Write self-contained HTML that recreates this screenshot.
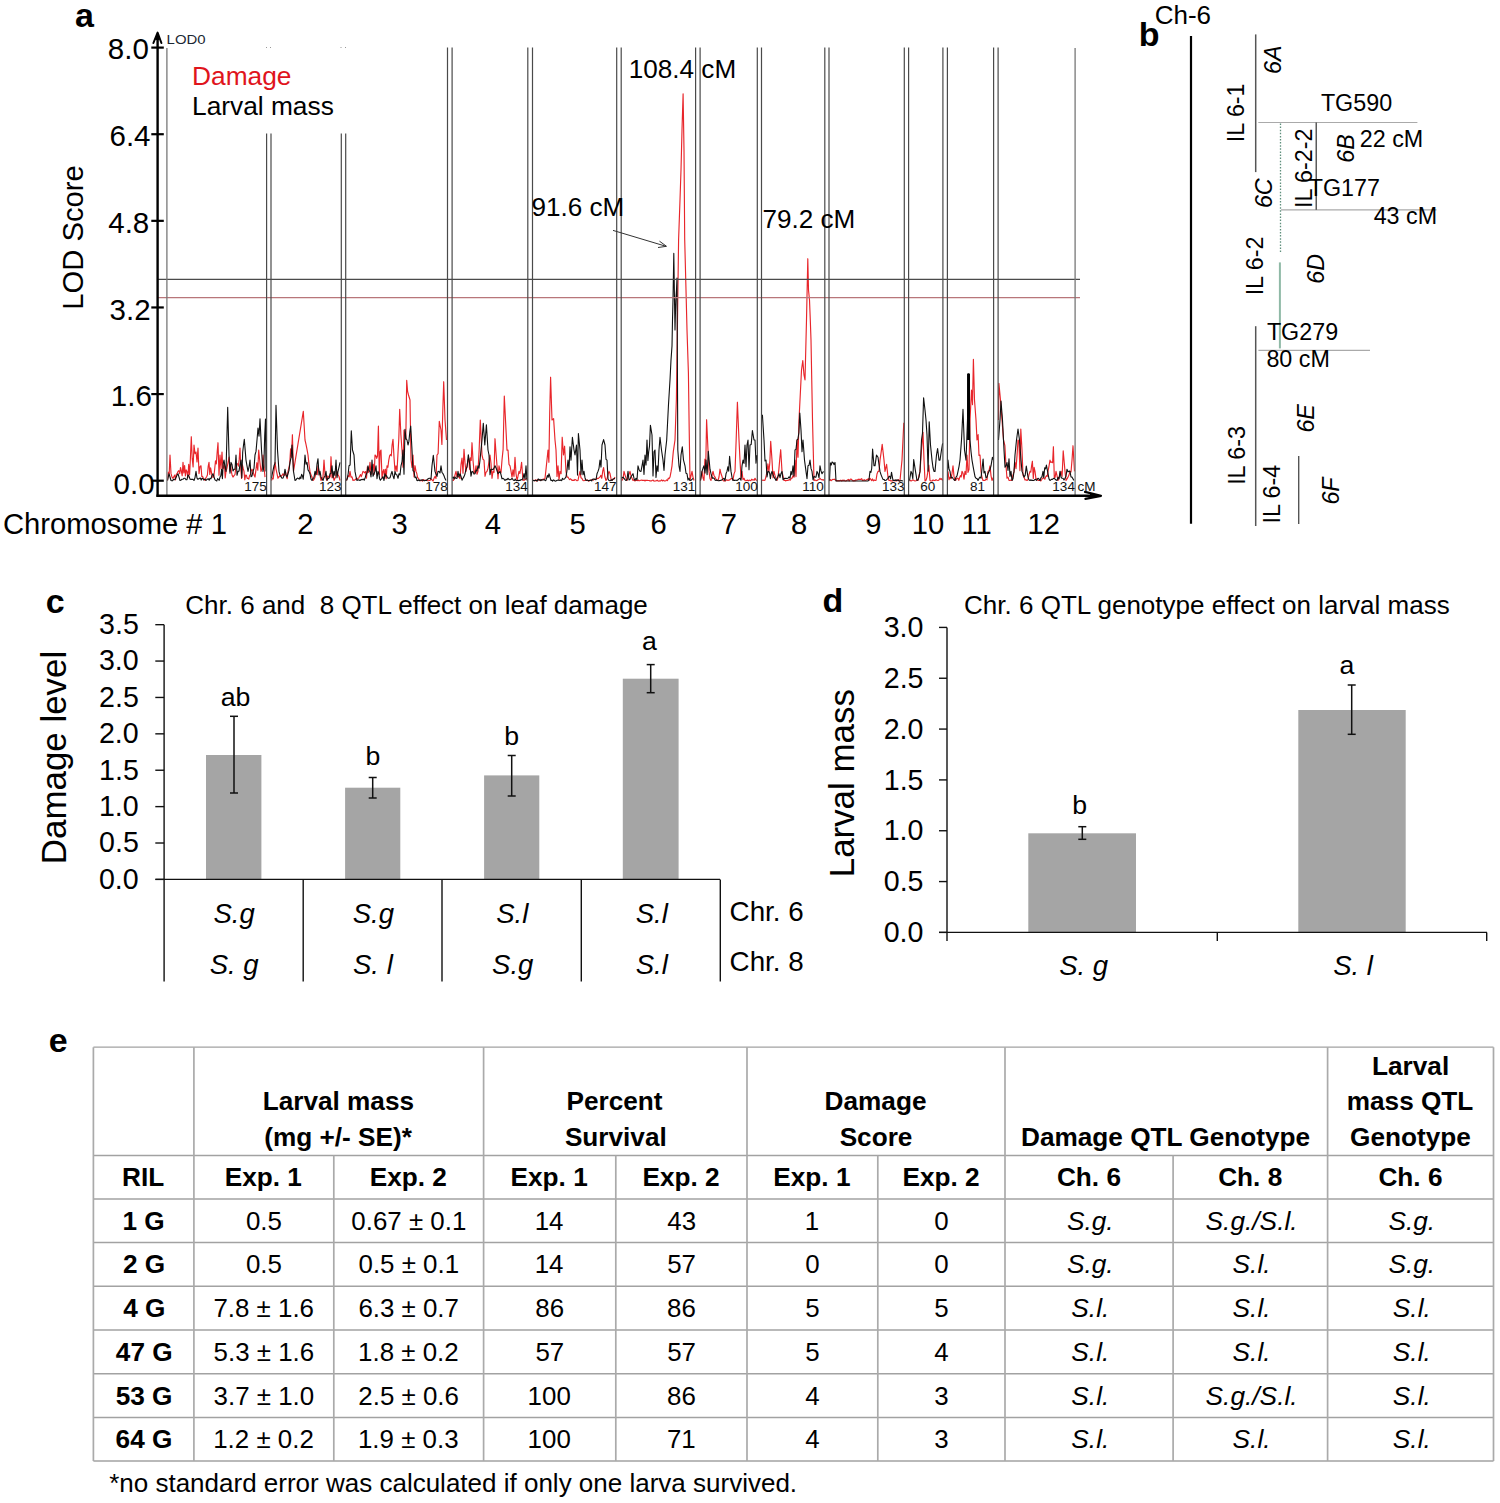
<!DOCTYPE html>
<html><head><meta charset="utf-8"><title>Figure</title>
<style>
html,body{margin:0;padding:0;background:#fff;}
body{width:1500px;height:1503px;overflow:hidden;}
svg{display:block;}
text{font-family:"Liberation Sans", sans-serif;}
</style></head><body>
<svg width="1500" height="1503" viewBox="0 0 1500 1503" font-family="Liberation Sans, sans-serif">
<rect width="1500" height="1503" fill="#fff"/>
<text x="75.00" y="27.30" font-size="34" font-weight="bold" fill="#000" >a</text>
<polyline points="167.5,480.5 168.3,472.2 169.2,474.1 170.0,455.0 171.0,473.4 172.0,477.2 173.0,478.3 173.8,476.7 174.7,475.0 175.5,479.9 176.3,474.3 177.2,473.4 178.0,471.4 178.8,470.7 179.7,473.6 180.5,467.5 181.3,471.0 182.2,475.8 183.0,462.4 183.8,472.9 184.6,465.5 185.4,475.9 186.2,469.9 187.0,471.4 187.9,477.7 188.7,464.3 189.6,474.7 190.4,458.3 191.3,436.7 192.2,458.4 193.1,466.9 194.0,445.0 195.0,453.7 196.0,452.0 197.0,461.9 198.0,448.0 199.0,473.6 200.0,466.5 201.0,465.8 201.8,476.4 202.6,476.4 203.4,478.5 204.2,478.9 205.0,480.5 205.8,478.0 206.6,476.7 207.4,475.0 208.2,466.4 209.0,462.4 209.8,474.4 210.6,467.8 211.4,472.1 212.2,476.9 213.0,477.1 213.8,476.9 214.7,469.0 215.5,460.8 216.3,463.9 217.2,451.9 218.0,442.7 219.0,475.3 220.0,455.0 221.0,468.9 222.0,452.0 222.8,468.7 223.6,467.8 224.4,464.2 225.2,477.9 226.0,471.4 227.0,468.0 228.0,462.5 229.0,457.0 229.8,471.2 230.6,464.4 231.4,471.8 232.2,475.5 233.0,477.1 234.0,475.7 235.0,474.5 236.0,465.8 236.8,463.4 237.6,464.0 238.4,466.1 239.2,459.4 240.0,448.0 240.8,469.0 241.6,478.5 242.4,464.9 243.2,468.4 244.0,471.4 244.8,479.8 245.6,475.1 246.4,475.4 247.2,478.4 248.0,478.3 248.8,479.1 249.6,475.4 250.4,474.6 251.2,470.9 252.0,469.2 253.0,471.1 254.0,475.1 255.0,477.1 255.9,470.1 256.9,462.7 257.8,470.2 258.7,450.0 259.9,462.2 261.0,471.4 262.0,468.7 263.0,455.0 264.0,466.3 265.0,477.1" fill="none" stroke="#e8262b" stroke-width="1.15" stroke-linejoin="round"/>
<polyline points="271.5,480.5 272.4,478.2 273.2,478.9 274.1,471.0 275.0,462.4 276.0,469.1 277.0,473.6 278.0,478.3 278.8,476.8 279.7,476.6 280.5,475.3 281.3,476.2 282.2,475.2 283.0,473.7 283.8,475.3 284.7,475.1 285.5,472.0 286.3,476.4 287.2,478.7 288.0,471.4 288.9,468.0 289.8,462.8 290.6,448.9 291.5,457.3 292.4,434.7 293.5,471.4 303.3,411.3 305.0,440.0 306.0,444.4 307.0,449.4 308.0,455.0 309.0,464.6 310.0,471.4 311.0,475.1 312.0,477.0 313.0,480.5 313.8,479.6 314.7,478.0 315.5,475.1 316.3,471.8 317.2,474.7 318.0,465.8 319.0,470.6 320.0,475.3 321.0,480.5 322.0,479.1 323.0,477.1 324.0,460.1 325.0,474.3 326.0,478.0 327.0,480.5 327.8,475.9 328.6,477.0 329.4,477.5 330.2,476.7 331.0,456.7 332.0,477.8 333.0,474.4 334.0,480.5 335.0,478.3 336.0,476.0 337.0,471.4 338.0,474.7 339.0,476.5 340.0,480.5" fill="none" stroke="#e8262b" stroke-width="1.15" stroke-linejoin="round"/>
<polyline points="346.5,480.5 347.4,477.8 348.2,475.6 349.1,476.9 350.0,471.4 351.0,477.1 352.0,476.9 353.0,480.5 353.8,480.1 354.7,480.1 355.5,479.6 356.3,478.2 357.2,479.4 358.0,478.3 358.8,477.9 359.7,476.0 360.5,474.6 361.3,476.7 362.2,473.8 363.0,471.4 363.9,471.9 364.8,472.9 365.6,471.6 366.5,478.2 367.4,466.9 368.2,472.4 369.1,470.5 370.0,462.4 370.8,470.9 371.7,474.2 372.5,465.2 373.3,464.3 374.2,474.3 375.0,455.0 375.9,455.8 376.7,458.4 377.5,456.0 378.4,426.0 379.3,474.6 380.1,451.6 381.0,450.0 382.0,477.8 383.0,471.4 383.8,469.6 384.6,478.1 385.4,469.2 386.2,478.7 387.0,465.8 387.9,467.3 388.7,460.6 389.6,455.8 390.4,454.6 391.3,455.8 392.1,445.1 393.0,439.3 394.0,457.4 395.0,471.0 396.0,465.8 397.0,471.4 397.9,454.9 398.8,438.7 399.7,409.3 400.9,434.9 402.0,450.0 403.0,467.2 404.0,430.0 404.9,434.9 405.8,439.4 406.7,380.4 407.6,391.3 408.5,395.0 410.0,400.0 411.0,459.7 412.0,467.5 413.0,455.0 414.0,476.8 415.0,465.7 416.0,471.4 416.8,473.5 417.6,477.6 418.4,478.3 419.2,479.5 420.0,480.5 420.8,480.8 421.7,480.2 422.5,481.1 423.3,479.5 424.2,480.1 425.0,480.5 425.8,480.4 426.7,480.0 427.5,480.6 428.3,480.7 429.2,480.5 430.0,480.5 430.8,479.4 431.6,479.3 432.4,480.4 433.2,480.9 434.0,478.3 435.0,476.4 436.0,478.6 437.0,455.0 438.1,453.6 439.3,421.3 441.0,430.0 441.9,444.5 442.8,410.6 443.7,381.7 445.0,420.0 446.5,440.0" fill="none" stroke="#e8262b" stroke-width="1.15" stroke-linejoin="round"/>
<polyline points="452.5,480.5 453.4,480.5 454.2,478.3 455.1,474.6 456.0,471.4 457.0,476.9 458.0,475.8 459.0,477.1 460.0,478.6 461.0,464.7 462.0,458.0 463.0,473.2 464.0,449.3 465.0,463.0 466.0,471.4 467.0,466.1 468.0,460.1 468.8,458.6 469.6,469.3 470.4,457.8 471.2,460.5 472.0,442.7 473.0,460.2 474.0,471.4 475.0,473.1 476.0,465.8 477.0,474.2 478.0,471.4 479.1,450.7 480.3,420.0 482.0,455.0 483.0,459.3 484.0,460.1 485.0,476.3 486.0,472.2 487.0,471.4 488.0,468.2 489.0,461.5 490.0,455.0 491.0,463.5 492.0,478.3 493.0,471.4 494.0,472.3 495.0,438.7 496.0,452.8 497.0,465.8 498.0,478.6 499.0,465.8 500.0,470.4 501.0,472.8 502.0,460.1 503.1,449.4 504.3,396.0 506.0,430.0 507.0,450.1 508.0,450.0 509.0,464.4 510.0,465.8 511.0,471.2 512.0,477.1 513.0,469.9 514.0,476.4 515.0,457.3 516.0,473.5 517.0,480.5 518.0,476.2 519.0,471.4 519.9,473.4 520.7,468.9 521.6,462.4 523.0,480.5 523.8,479.7 524.6,480.2 525.4,479.4 526.2,478.6 527.0,478.3" fill="none" stroke="#e8262b" stroke-width="1.15" stroke-linejoin="round"/>
<polyline points="533.0,480.5 533.9,480.2 534.8,480.8 535.6,479.9 536.5,481.1 537.4,479.5 538.2,479.8 539.1,479.9 540.0,480.5 540.8,480.4 541.7,479.8 542.5,479.6 543.3,479.1 544.2,479.4 545.0,478.3 546.0,469.4 547.0,459.7 548.0,450.0 548.9,462.3 549.7,413.0 550.6,377.2 552.0,420.0 553.6,418.6 555.0,440.0 556.0,450.0 557.0,476.5 558.0,465.8 559.0,479.8 560.0,471.4 561.1,473.7 562.2,437.2 563.5,455.0 564.6,446.2 566.0,471.4 567.0,477.1 568.0,477.1 568.8,478.5 569.6,479.6 570.4,478.8 571.2,479.4 572.0,480.5 573.0,480.1 574.0,480.5 575.0,479.4 576.0,479.9 577.0,480.7 578.0,480.5 579.0,475.4 580.0,471.4 581.0,477.8 582.0,478.5 583.0,480.5 583.9,480.7 584.8,480.3 585.6,480.1 586.5,480.5 587.4,480.0 588.2,480.9 589.1,481.0 590.0,480.5 590.9,480.2 591.7,479.6 592.6,479.7 593.4,480.2 594.3,479.3 595.1,479.5 596.0,479.4 596.8,478.1 597.6,478.6 598.4,478.5 599.2,477.5 600.0,477.1 600.9,475.3 601.8,478.3 602.7,471.2 603.6,467.6 604.8,476.5 606.0,480.5 607.0,478.8 608.0,474.6 609.0,471.4 610.0,473.6 611.0,478.7 612.0,480.5 613.0,479.1 614.0,478.9 615.0,477.1" fill="none" stroke="#e8262b" stroke-width="1.15" stroke-linejoin="round"/>
<polyline points="621.5,480.5 622.3,480.0 623.2,477.9 624.0,471.4 625.0,474.9 626.0,478.2 627.0,480.5 628.0,477.5 629.0,474.2 630.0,471.4 631.0,475.9 632.0,478.2 633.0,480.5 633.9,479.8 634.8,481.0 635.6,480.6 636.5,480.3 637.4,480.6 638.2,480.0 639.1,480.8 640.0,480.5 640.8,480.2 641.7,480.1 642.5,480.4 643.3,480.4 644.2,480.2 645.0,481.0 645.8,480.2 646.7,480.4 647.5,480.4 648.3,480.5 649.2,480.5 650.0,481.0 650.8,480.8 651.6,480.9 652.4,480.2 653.2,480.1 654.0,481.1 654.8,481.0 655.6,480.9 656.4,480.7 657.2,480.2 658.0,481.0 658.9,481.1 659.8,480.8 660.6,481.0 661.5,479.9 662.4,481.0 663.2,480.2 664.1,480.9 665.0,481.0 665.8,480.7 666.7,479.9 667.5,480.6 668.3,478.2 669.2,478.6 670.0,477.1 671.0,471.9 672.0,465.8 673.3,451.6 675.0,440.0 676.4,399.0 677.5,320.0 678.6,239.6 680.0,200.0 681.0,170.0 682.0,130.0 683.1,93.8 684.0,150.0 684.7,239.6 686.0,290.0 687.0,330.0 688.4,372.5 689.2,430.0 690.0,480.5 691.0,475.8 692.0,471.4 693.0,477.1 694.0,480.5" fill="none" stroke="#e8262b" stroke-width="1.15" stroke-linejoin="round"/>
<polyline points="700.5,480.5 702.0,471.4 703.0,478.0 704.0,480.5 704.9,459.2 705.7,468.8 706.6,419.7 708.0,450.0 709.0,471.4 710.0,478.7 711.0,480.5 712.0,475.4 713.0,471.4 714.0,475.5 715.0,477.1 716.0,479.1 717.0,480.3 718.0,480.5 719.0,477.0 720.0,469.2 721.0,473.8 722.0,476.5 723.0,480.5 723.8,480.9 724.7,480.8 725.5,480.9 726.3,479.7 727.2,480.1 728.0,480.5 728.8,480.1 729.6,480.0 730.4,479.1 731.2,478.7 732.0,478.3 733.0,479.9 734.0,473.9 735.0,471.4 736.2,438.7 737.4,402.2 739.0,440.0 740.0,460.1 741.0,478.1 742.0,471.4 743.0,479.7 744.0,478.3 745.0,480.5 745.8,480.7 746.7,480.4 747.5,480.0 748.3,480.8 749.2,480.1 750.0,480.5 750.8,480.6 751.7,479.2 752.5,480.0 753.3,479.8 754.2,480.3 755.0,478.3 756.0,479.9 757.0,480.5" fill="none" stroke="#e8262b" stroke-width="1.15" stroke-linejoin="round"/>
<polyline points="762.0,480.5 763.0,480.0 764.0,480.5 765.0,480.1 766.0,476.5 767.0,471.4 767.9,463.9 768.9,471.7 769.8,462.9 770.7,441.3 772.0,460.1 773.0,477.8 774.0,471.4 775.0,475.6 776.0,478.2 777.0,480.5 777.9,477.8 778.9,469.1 779.8,458.8 780.7,449.7 782.0,471.4 783.0,476.1 784.0,480.5 784.8,480.2 785.6,480.9 786.4,480.5 787.2,480.3 788.0,480.5 788.8,479.9 789.6,479.6 790.4,480.1 791.2,478.4 792.0,478.3 793.0,475.6 794.0,477.3 795.0,460.1 796.0,476.6 797.0,440.0 798.0,457.2 799.0,420.0 800.0,400.0 801.5,370.0 802.8,360.6 804.0,375.0 805.0,380.0 806.5,320.0 807.8,258.7 808.5,290.0 809.5,300.0 810.3,320.0 811.0,340.0 812.5,420.0 814.0,480.5 815.0,479.9 816.0,480.6 817.0,480.5 818.0,479.7 819.0,479.5 820.0,478.3 820.8,479.2 821.6,479.7 822.4,479.9 823.2,479.6 824.0,480.5" fill="none" stroke="#e8262b" stroke-width="1.15" stroke-linejoin="round"/>
<polyline points="829.5,481.0 830.4,479.7 831.2,480.7 832.1,479.8 833.0,479.4 833.8,479.5 834.6,479.2 835.4,480.2 836.2,480.2 837.0,481.0 838.0,480.5 839.0,480.9 840.0,480.5 840.8,480.2 841.7,481.0 842.5,480.2 843.3,480.6 844.2,480.0 845.0,481.0 845.8,481.0 846.7,480.5 847.5,480.1 848.3,479.4 849.2,480.9 850.0,479.4 850.8,479.0 851.7,479.6 852.5,480.4 853.3,480.9 854.2,480.4 855.0,481.0 855.8,479.8 856.7,480.1 857.5,479.7 858.3,479.2 859.2,479.4 860.0,479.4 860.8,479.4 861.7,478.7 862.5,480.5 863.3,480.4 864.2,479.7 865.0,480.5 865.8,480.3 866.7,479.6 867.5,479.7 868.3,478.6 869.2,480.3 870.0,478.3 870.8,479.4 871.7,480.6 872.5,478.9 873.3,480.9 874.2,479.9 875.0,480.5 876.0,480.4 877.0,474.0 878.0,471.4 879.0,471.4 880.0,460.1 881.1,452.6 882.2,444.4 884.0,460.1 885.0,471.4 886.6,464.3 888.0,477.1 889.0,480.5 890.0,480.5 890.8,480.9 891.7,480.7 892.5,480.9 893.3,480.6 894.2,480.2 895.0,481.0 895.8,480.3 896.7,481.0 897.5,480.2 898.3,479.7 899.2,480.8 900.0,480.5 901.0,470.2 902.0,460.1 903.8,422.8" fill="none" stroke="#e8262b" stroke-width="1.15" stroke-linejoin="round"/>
<polyline points="909.5,481.0 910.3,480.4 911.2,480.9 912.0,480.5 913.0,479.8 914.0,480.5 915.0,481.0 916.0,480.7 917.0,479.8 918.0,480.5 919.0,475.4 920.0,471.4 921.5,450.0 923.0,432.2 924.0,460.1 925.0,481.0 926.0,480.2 927.0,477.1 928.8,465.0 930.0,480.5 931.0,480.9 932.0,481.0 933.0,480.0 934.0,480.4 935.0,480.5 936.0,479.7 937.0,480.3 938.0,480.5 939.0,479.9 940.0,478.3 940.8,479.5 941.7,478.6 942.5,480.5" fill="none" stroke="#e8262b" stroke-width="1.15" stroke-linejoin="round"/>
<polyline points="948.0,471.4 949.0,479.7 950.0,477.1 951.0,478.7 952.0,473.4 953.0,465.8 954.0,476.4 955.0,480.5 956.0,479.9 957.0,478.1 958.0,478.3 958.8,480.3 959.6,477.8 960.4,475.6 961.2,477.0 962.0,471.4 963.0,473.2 964.0,479.2 965.0,471.4 966.0,474.5 967.0,455.0 968.0,472.4 969.0,469.5 970.0,420.0 971.5,390.0 972.5,404.6 973.4,359.3 974.5,400.0 976.0,420.0 977.0,440.0 978.1,434.5 979.0,455.5 980.0,455.0 981.0,471.4 982.0,477.5 983.0,480.5 984.0,480.4 985.0,480.5 986.0,479.1 987.0,479.8 988.0,471.4 989.0,470.5 990.0,465.8 991.0,475.6 992.0,480.5 993.5,477.1" fill="none" stroke="#e8262b" stroke-width="1.15" stroke-linejoin="round"/>
<polyline points="998.5,420.0 998.9,383.3 1000.5,400.0 1002.0,420.0 1003.5,440.0 1004.9,445.7 1006.0,465.8 1007.0,478.2 1008.0,477.1 1009.0,480.4 1010.0,480.5 1011.0,480.0 1012.0,480.5 1013.0,474.9 1014.0,471.9 1015.0,462.4 1016.0,468.6 1017.0,455.9 1018.0,440.0 1018.9,441.2 1019.9,470.6 1020.8,429.0 1022.0,450.0 1023.0,475.3 1024.0,477.1 1025.0,480.0 1026.0,479.8 1027.0,480.5 1028.0,479.5 1029.0,474.7 1030.0,471.4 1030.8,472.2 1031.6,465.8 1032.4,461.2 1033.3,478.5 1034.1,467.4 1035.0,471.4 1036.0,479.2 1037.0,478.8 1038.0,480.5 1039.0,480.3 1040.0,480.5 1040.8,480.9 1041.6,479.7 1042.4,478.4 1043.2,477.8 1044.0,478.3 1044.8,479.2 1045.6,477.0 1046.4,475.7 1047.2,476.5 1048.0,471.4 1049.0,466.1 1050.0,460.1 1050.8,462.4 1051.7,461.9 1052.6,462.7 1053.4,446.7 1054.3,477.5 1055.1,477.4 1056.0,471.4 1057.0,475.7 1058.0,480.5 1059.0,478.1 1060.0,474.2 1061.0,471.4 1062.1,476.4 1063.2,450.9 1065.0,471.4 1066.0,480.5 1067.0,478.9 1068.0,477.1 1069.0,475.1 1070.0,471.4 1071.0,472.0 1072.0,460.1 1073.0,445.7 1074.5,471.4" fill="none" stroke="#e8262b" stroke-width="1.15" stroke-linejoin="round"/>
<polyline points="167.5,480.5 169.0,473.7 170.0,477.0 171.0,480.5 171.8,480.8 172.6,480.7 173.4,479.3 174.2,479.8 175.0,479.4 176.0,477.6 177.0,475.2 178.0,473.7 179.0,477.1 180.0,480.5 180.8,480.3 181.7,479.4 182.5,479.3 183.3,479.0 184.2,478.2 185.0,478.3 186.0,479.8 187.0,479.6 188.0,474.9 189.0,476.2 190.0,479.2 191.0,479.4 192.0,479.2 193.0,479.4 194.0,480.5 195.0,477.6 196.0,471.4 197.0,478.2 198.0,479.4 198.8,478.7 199.6,478.3 200.4,478.0 201.2,480.1 202.0,478.3 202.8,478.4 203.6,479.9 204.4,479.4 205.2,479.4 206.0,480.5 206.8,479.5 207.6,479.1 208.4,478.9 209.2,480.2 210.0,478.3 211.0,478.7 212.0,475.5 213.0,473.7 214.0,477.0 215.0,479.9 216.0,480.5 216.8,480.9 217.6,478.6 218.4,479.3 219.2,480.4 220.0,477.1 220.8,475.7 221.6,469.2 222.4,478.6 223.2,463.6 224.0,460.1 225.0,466.8 226.0,471.4 227.7,407.3 229.0,455.0 230.0,473.3 231.0,462.4 232.0,464.5 233.0,471.0 234.0,469.2 235.0,469.3 236.0,455.0 237.0,475.3 238.0,471.4 239.0,471.1 240.0,464.7 241.0,460.1 241.8,477.6 242.7,452.2 243.5,445.2 244.3,439.3 246.0,460.1 247.0,465.8 248.0,471.4 249.0,467.0 250.0,460.1 251.0,476.7 252.0,476.0 253.0,471.4 254.0,468.3 255.0,455.0 256.0,451.4 257.0,440.0 258.0,428.0 259.0,436.2 260.0,418.7 261.5,450.0 263.0,471.4 263.8,467.2 264.7,436.0 265.5,419.0 266.0,471.4" fill="none" stroke="#111" stroke-width="1.1" stroke-linejoin="round"/>
<polyline points="271.5,478.3 272.3,473.9 273.2,469.6 274.0,465.8 275.0,463.2 276.0,405.3 277.5,450.0 279.0,471.4 280.0,475.4 281.0,476.7 282.0,478.3 283.0,478.0 284.0,475.6 285.0,469.2 286.0,474.7 287.0,477.1 288.0,473.7 289.0,470.3 290.0,462.4 291.0,457.9 292.0,445.0 293.5,471.4 295.0,480.5 295.8,480.1 296.7,478.7 297.5,478.1 298.3,478.5 299.2,479.1 300.0,477.1 300.8,478.6 301.6,474.4 302.4,475.7 303.2,479.1 304.0,471.4 305.0,455.0 306.0,464.3 307.0,462.4 308.0,469.9 309.0,471.4 310.0,474.0 311.0,479.2 312.0,480.5 313.0,478.6 314.0,477.2 315.0,471.4 316.0,474.8 317.0,464.2 318.0,458.7 319.0,475.0 320.0,471.4 321.0,476.9 322.0,479.0 323.0,480.5 324.0,477.4 325.0,476.1 326.0,471.4 327.0,480.2 328.0,478.6 329.0,478.3 330.0,473.8 331.0,473.5 332.0,465.8 333.0,477.8 334.0,471.4 335.0,475.6 336.0,460.1 337.0,477.6 338.0,471.4 339.0,467.1 340.0,462.4" fill="none" stroke="#111" stroke-width="1.1" stroke-linejoin="round"/>
<polyline points="346.5,480.5 347.3,478.5 348.2,473.5 349.0,465.8 350.1,465.0 351.3,430.7 352.5,450.0 354.0,455.0 355.0,471.4 356.0,476.6 357.0,480.5 358.0,479.9 359.0,480.0 360.0,480.5 360.8,479.7 361.7,479.4 362.5,479.7 363.3,479.0 364.2,480.2 365.0,478.3 366.0,474.9 367.0,472.8 368.0,465.8 369.0,470.7 370.0,471.4 371.0,477.0 372.0,460.1 373.0,476.2 374.0,473.7 375.0,471.4 376.0,465.8 377.0,478.7 378.0,471.4 378.8,473.1 379.6,478.7 380.4,480.3 381.2,479.0 382.0,478.3 383.0,476.6 384.0,480.5 385.0,473.7 385.8,476.1 386.6,475.7 387.4,477.7 388.2,478.1 389.0,478.3 390.0,477.8 391.0,474.3 392.0,471.4 393.0,475.9 394.0,478.7 395.0,471.4 396.0,474.6 397.0,475.1 398.0,478.3 399.0,473.7 400.0,475.0 401.0,465.8 402.0,461.6 403.0,450.0 404.0,474.2 405.0,429.3 406.0,438.7 407.0,440.0 408.0,445.0 408.9,441.4 409.8,432.1 410.7,426.0 412.0,450.0 413.0,470.8 414.0,471.4 415.0,477.7 416.0,477.0 417.0,480.5 417.8,480.6 418.6,479.8 419.4,480.7 420.2,480.3 421.0,480.1 421.8,480.1 422.6,479.9 423.4,480.5 424.2,480.8 425.0,480.5 425.8,480.3 426.7,480.4 427.5,479.3 428.3,478.7 429.2,478.2 430.0,478.3 431.0,479.0 432.0,465.8 433.3,455.3 435.0,471.4 436.0,474.1 437.0,476.4 438.0,471.4 439.0,471.5 440.0,473.0 441.0,465.8 442.0,472.5 443.0,473.7 444.0,475.8 445.0,478.6 446.0,480.5" fill="none" stroke="#111" stroke-width="1.1" stroke-linejoin="round"/>
<polyline points="452.5,478.3 453.3,477.0 454.2,479.1 455.0,477.1 456.0,478.5 457.0,478.3 458.0,471.4 459.0,476.9 460.0,473.7 461.0,476.5 462.0,480.2 463.0,478.3 464.0,476.6 465.0,474.0 466.0,469.2 467.1,466.7 468.3,454.7 470.0,465.8 471.0,476.2 472.0,471.4 473.0,471.8 474.0,474.1 475.0,473.7 476.0,470.1 477.0,471.0 478.0,465.8 479.0,468.3 480.0,460.1 481.0,450.1 482.0,440.0 483.3,423.3 484.8,445.0 486.4,424.7 488.0,450.0 489.0,455.0 490.0,474.7 491.0,469.2 492.0,469.2 493.0,469.7 494.0,467.9 495.0,465.8 496.0,467.7 497.0,470.5 498.0,473.7 499.0,472.6 500.0,471.4 501.0,474.6 502.0,478.9 503.0,478.3 504.0,479.2 505.0,480.5 506.0,479.4 507.0,479.6 508.0,478.3 508.8,479.3 509.6,479.7 510.4,479.6 511.2,479.3 512.0,478.3 512.8,479.4 513.6,480.3 514.4,480.5 515.2,479.1 516.0,480.5 516.8,480.8 517.6,480.2 518.4,480.6 519.2,480.4 520.0,480.5 521.0,479.6 522.0,479.7 523.0,478.3 524.0,473.5 525.0,479.1 526.0,465.8 527.0,480.5" fill="none" stroke="#111" stroke-width="1.1" stroke-linejoin="round"/>
<polyline points="533.0,480.5 533.9,480.6 534.8,480.6 535.6,480.2 536.5,480.6 537.4,481.1 538.2,478.9 539.1,480.1 540.0,479.4 540.8,480.7 541.7,479.6 542.5,480.0 543.3,479.9 544.2,479.6 545.0,480.5 545.8,480.6 546.6,478.3 547.4,475.4 548.2,477.3 549.0,473.7 550.0,477.2 551.0,480.5 551.8,480.4 552.6,481.1 553.4,479.9 554.2,480.3 555.0,481.0 555.8,481.1 556.7,480.5 557.5,480.2 558.3,479.9 559.2,480.3 560.0,480.5 560.8,479.8 561.7,480.6 562.5,478.3 563.3,479.3 564.2,479.1 565.0,478.3 566.0,476.9 567.0,470.3 568.0,460.1 569.0,469.6 570.0,446.8 571.0,460.1 572.4,437.2 574.0,450.0 575.0,455.0 576.5,445.0 577.5,475.1 578.4,433.6 580.0,450.0 581.0,474.4 582.0,460.1 583.0,474.8 584.0,471.4 585.0,477.7 586.0,480.5 586.8,480.2 587.6,480.2 588.4,480.9 589.2,480.4 590.0,480.5 590.8,480.0 591.7,481.0 592.5,479.3 593.3,479.1 594.2,479.0 595.0,479.4 596.0,479.7 597.0,473.8 598.0,471.4 599.0,468.3 600.0,460.1 601.0,467.1 602.0,445.0 603.6,439.6 605.0,445.0 606.0,459.3 607.0,460.1 608.0,479.0 609.0,480.5 610.0,480.8 611.0,479.8 612.0,480.5 613.0,479.2 614.0,478.7 615.0,478.3" fill="none" stroke="#111" stroke-width="1.1" stroke-linejoin="round"/>
<polyline points="621.5,478.3 623.0,477.1 624.0,478.3 625.0,479.6 626.0,480.5 627.0,479.5 628.0,471.4 629.0,480.0 630.0,479.4 631.0,476.8 632.0,475.2 633.0,473.7 634.0,478.4 635.0,480.3 636.0,478.3 637.0,479.9 638.0,465.8 639.0,469.5 640.0,471.2 641.0,471.4 642.0,465.8 643.0,460.1 644.0,474.5 645.0,455.0 646.0,465.1 647.0,440.0 647.9,460.6 648.7,451.8 649.5,446.1 650.4,425.2 652.0,435.0 653.0,476.0 654.0,451.8 655.0,450.0 656.0,477.4 657.0,465.8 658.0,471.4 659.0,450.0 660.0,437.2 661.5,450.0 663.0,460.1 664.0,470.4 665.0,455.0 666.7,440.0 668.5,404.5 670.0,380.0 671.0,360.0 672.0,346.0 672.5,320.0 673.0,300.0 673.8,253.4 674.5,300.0 675.0,330.0 675.8,300.0 676.5,290.0 677.0,278.0 677.8,450.0 679.0,465.8 680.0,471.4 681.0,455.0 682.3,446.8 683.5,460.1 685.0,465.8 686.0,473.2 687.0,473.7 688.0,480.1 689.0,478.2 690.0,480.5 691.0,480.3 692.0,479.3 693.0,478.3" fill="none" stroke="#111" stroke-width="1.1" stroke-linejoin="round"/>
<polyline points="700.5,480.5 702.0,471.4 703.0,468.3 704.0,465.8 705.0,473.1 706.0,460.1 707.1,474.6 708.3,451.3 710.0,469.2 711.0,473.7 712.0,477.1 712.8,478.4 713.6,477.9 714.4,478.7 715.2,480.3 716.0,480.5 716.8,480.0 717.6,480.5 718.4,480.8 719.2,480.6 720.0,480.5 720.8,480.4 721.6,480.0 722.4,479.4 723.2,478.9 724.0,478.3 725.0,480.7 726.0,473.8 727.0,471.4 727.9,466.7 728.7,471.2 729.6,456.3 731.0,471.4 732.0,477.2 733.0,480.5 733.8,480.0 734.6,480.5 735.4,480.2 736.2,480.2 737.0,480.5 738.0,479.8 739.0,478.8 740.0,478.3 741.0,480.3 742.0,465.8 743.0,460.0 744.0,463.4 745.0,445.0 746.0,466.7 747.0,445.0 748.0,440.0 749.0,469.7 750.0,445.0 751.2,444.4 752.4,430.5 754.0,440.0 755.0,440.0 756.0,463.2 757.0,455.0" fill="none" stroke="#111" stroke-width="1.1" stroke-linejoin="round"/>
<polyline points="762.4,414.7 764.0,440.0 765.0,460.9 766.0,460.1 767.0,477.0 768.0,471.4 768.8,471.5 769.6,472.9 770.4,478.6 771.2,473.7 772.0,471.4 773.0,474.7 774.0,477.1 775.0,478.6 776.0,480.5 777.0,478.4 778.0,476.2 779.0,473.7 780.0,477.7 781.0,473.4 782.0,471.4 783.0,479.6 784.0,478.6 785.0,478.3 786.0,478.4 787.0,478.5 788.0,478.3 789.0,476.9 790.0,478.3 791.0,471.4 792.0,474.8 793.0,465.8 794.0,476.1 795.0,450.0 796.0,449.4 797.0,440.0 797.9,439.2 798.9,432.7 799.8,413.0 801.0,430.0 802.0,451.7 803.0,440.0 804.5,460.1 806.0,471.4 807.0,478.7 808.0,465.8 809.0,465.3 810.0,460.1 811.0,468.4 812.0,471.4 813.0,479.8 814.0,476.3 815.0,477.1 816.0,477.1 817.0,471.4 818.0,473.5 819.0,477.8 820.0,465.8 821.0,470.9 822.0,473.7 823.5,471.4" fill="none" stroke="#111" stroke-width="1.1" stroke-linejoin="round"/>
<polyline points="829.5,480.5 830.3,462.9 831.2,465.0 832.1,462.0 833.0,462.4 834.0,464.6 835.0,462.4 836.0,481.0 868.0,481.0 869.0,479.6 870.0,471.4 870.9,472.3 871.7,468.5 872.6,449.1 874.0,465.8 875.0,465.8 876.5,455.0 878.0,457.3 879.0,464.8 880.0,471.4 881.0,474.6 882.0,477.1 883.0,479.4 884.0,479.5 885.0,480.5 886.0,480.3 887.0,479.3 888.0,478.3 888.9,476.4 889.8,476.4 890.6,478.9 891.5,472.2 893.0,480.5 894.0,480.2 895.0,480.5 895.8,479.8 896.7,480.5 897.5,480.1 898.3,480.0 899.2,481.1 900.0,481.0 901.0,480.6 902.0,480.8 903.0,481.0" fill="none" stroke="#111" stroke-width="1.1" stroke-linejoin="round"/>
<polyline points="909.5,480.5 911.0,471.4 911.9,473.3 912.8,478.6 913.7,459.6 915.5,471.4 917.0,480.5 918.0,479.9 919.0,477.1 920.0,471.4 921.5,440.0 922.5,433.2 923.6,397.8 925.0,410.0 926.0,420.0 927.0,435.0 928.1,471.3 929.2,421.7 930.5,445.0 932.0,460.1 933.0,467.5 934.0,471.4 935.0,471.4 936.5,455.0 937.6,448.5 939.0,460.1 940.0,460.1 941.5,450.0 942.6,443.3" fill="none" stroke="#111" stroke-width="1.1" stroke-linejoin="round"/>
<polyline points="947.5,471.4 948.0,460.1 949.0,469.0 950.0,471.4 951.0,478.0 952.0,477.1 953.0,478.5 954.0,479.7 955.0,480.5 956.0,477.1 957.0,475.9 958.0,471.4 959.0,466.6 960.0,460.1 961.5,440.0 963.0,409.4 964.5,450.0 966.0,460.1 967.5,420.0 968.0,373.8 969.0,373.8 969.5,420.0 970.0,440.0 971.0,451.5 972.0,460.1 973.0,465.9 974.0,471.4 975.0,476.6 976.0,478.3 977.0,478.6 978.0,480.5 979.0,478.4 980.0,477.1 981.0,478.1 982.1,468.3 983.1,459.0 984.0,472.9 985.0,471.4 986.0,477.9 987.0,477.1 988.0,473.4 989.0,471.4 990.0,469.7 991.0,465.8 992.4,457.3 993.5,460.1" fill="none" stroke="#111" stroke-width="1.1" stroke-linejoin="round"/>
<polyline points="998.5,440.0 1000.0,420.0 1001.0,401.0 1002.5,420.0 1004.0,450.0 1005.0,467.1 1006.0,465.8 1007.0,462.5 1008.0,470.4 1009.0,458.8 1010.0,476.5 1011.0,471.4 1012.0,480.5 1013.0,478.8 1014.0,471.4 1015.0,455.0 1016.5,440.0 1018.0,429.0 1019.5,440.0 1021.0,460.1 1022.0,471.4 1023.0,473.9 1024.0,477.1 1025.2,475.1 1026.3,466.1 1028.0,477.1 1029.0,479.9 1030.0,480.5 1030.8,479.8 1031.6,480.4 1032.4,480.2 1033.2,480.4 1034.0,480.5 1034.8,479.5 1035.6,479.4 1036.4,480.3 1037.2,479.4 1038.0,478.3 1039.0,479.0 1040.0,480.5 1041.0,477.7 1042.0,476.7 1043.0,471.4 1043.8,477.7 1044.7,467.7 1045.6,468.8 1046.4,465.1 1048.0,473.7 1049.0,478.9 1050.0,480.5 1050.8,479.9 1051.6,479.3 1052.4,479.4 1053.2,478.7 1054.0,478.3 1055.0,479.0 1056.0,480.1 1057.0,480.5 1058.0,477.3 1059.0,479.0 1060.0,471.4 1061.0,477.2 1062.0,478.3 1063.0,478.3 1064.0,480.0 1065.0,478.3 1066.0,476.3 1067.0,469.2 1068.0,471.9 1069.0,471.1 1070.0,471.4 1071.0,477.0 1072.0,477.1 1073.0,478.9 1074.0,480.5" fill="none" stroke="#111" stroke-width="1.1" stroke-linejoin="round"/>
<line x1="158.00" y1="279.40" x2="1080.00" y2="279.40" stroke="#4a4a4a" stroke-width="1.1" />
<line x1="158.00" y1="297.60" x2="1080.00" y2="297.60" stroke="#b8767a" stroke-width="1.2" />
<line x1="266.60" y1="133.60" x2="266.60" y2="495.00" stroke="#4a4a4a" stroke-width="1.2" />
<line x1="271.00" y1="133.60" x2="271.00" y2="495.00" stroke="#4a4a4a" stroke-width="1.2" />
<line x1="341.30" y1="133.60" x2="341.30" y2="495.00" stroke="#4a4a4a" stroke-width="1.2" />
<line x1="345.70" y1="133.60" x2="345.70" y2="495.00" stroke="#4a4a4a" stroke-width="1.2" />
<line x1="447.50" y1="47.60" x2="447.50" y2="495.00" stroke="#4a4a4a" stroke-width="1.2" />
<line x1="452.10" y1="47.60" x2="452.10" y2="495.00" stroke="#4a4a4a" stroke-width="1.2" />
<line x1="527.80" y1="47.60" x2="527.80" y2="495.00" stroke="#4a4a4a" stroke-width="1.2" />
<line x1="532.50" y1="47.60" x2="532.50" y2="495.00" stroke="#4a4a4a" stroke-width="1.2" />
<line x1="616.70" y1="47.60" x2="616.70" y2="495.00" stroke="#4a4a4a" stroke-width="1.2" />
<line x1="621.20" y1="47.60" x2="621.20" y2="495.00" stroke="#4a4a4a" stroke-width="1.2" />
<line x1="695.60" y1="47.60" x2="695.60" y2="495.00" stroke="#4a4a4a" stroke-width="1.2" />
<line x1="700.10" y1="47.60" x2="700.10" y2="495.00" stroke="#4a4a4a" stroke-width="1.2" />
<line x1="757.30" y1="47.60" x2="757.30" y2="495.00" stroke="#4a4a4a" stroke-width="1.2" />
<line x1="761.50" y1="47.60" x2="761.50" y2="495.00" stroke="#4a4a4a" stroke-width="1.2" />
<line x1="824.80" y1="47.60" x2="824.80" y2="495.00" stroke="#4a4a4a" stroke-width="1.2" />
<line x1="829.00" y1="47.60" x2="829.00" y2="495.00" stroke="#4a4a4a" stroke-width="1.2" />
<line x1="904.30" y1="47.60" x2="904.30" y2="495.00" stroke="#4a4a4a" stroke-width="1.2" />
<line x1="908.60" y1="47.60" x2="908.60" y2="495.00" stroke="#4a4a4a" stroke-width="1.2" />
<line x1="942.90" y1="47.60" x2="942.90" y2="495.00" stroke="#4a4a4a" stroke-width="1.2" />
<line x1="947.40" y1="47.60" x2="947.40" y2="495.00" stroke="#4a4a4a" stroke-width="1.2" />
<line x1="993.60" y1="47.60" x2="993.60" y2="495.00" stroke="#4a4a4a" stroke-width="1.2" />
<line x1="998.10" y1="47.60" x2="998.10" y2="495.00" stroke="#4a4a4a" stroke-width="1.2" />
<line x1="166.90" y1="48.00" x2="166.90" y2="495.00" stroke="#777" stroke-width="1.3" />
<line x1="1075.10" y1="48.00" x2="1075.10" y2="495.00" stroke="#777" stroke-width="1.3" />
<rect x="266.00" y="47.00" width="1.00" height="1.00" fill="#999"/>
<rect x="270.00" y="47.00" width="1.00" height="1.00" fill="#999"/>
<rect x="340.50" y="47.00" width="1.00" height="1.00" fill="#999"/>
<rect x="345.00" y="47.00" width="1.00" height="1.00" fill="#999"/>
<line x1="157.60" y1="36.00" x2="157.60" y2="496.70" stroke="#000" stroke-width="2.4" />
<path d="M153.4,43 L157.6,32.6 L161.4,43" fill="none" stroke="#000" stroke-width="2" stroke-linecap="round" stroke-linejoin="round"/>
<path d="M155.3,40 L157.6,32.6 L159.5,40 Z" fill="#000"/>
<line x1="151.30" y1="47.60" x2="163.80" y2="47.60" stroke="#000" stroke-width="2.2" />
<line x1="151.30" y1="134.22" x2="163.80" y2="134.22" stroke="#000" stroke-width="2.2" />
<line x1="151.30" y1="220.84" x2="163.80" y2="220.84" stroke="#000" stroke-width="2.2" />
<line x1="151.30" y1="307.46" x2="163.80" y2="307.46" stroke="#000" stroke-width="2.2" />
<line x1="151.30" y1="394.08" x2="163.80" y2="394.08" stroke="#000" stroke-width="2.2" />
<line x1="151.30" y1="480.70" x2="163.80" y2="480.70" stroke="#000" stroke-width="2.2" />
<text x="107.82" y="59.30" font-size="29.5" fill="#000" >8.0</text>
<text x="109.50" y="145.70" font-size="29.5" fill="#000" >6.4</text>
<text x="108.22" y="232.50" font-size="29.5" fill="#000" >4.8</text>
<text x="109.58" y="319.80" font-size="29.5" fill="#000" >3.2</text>
<text x="110.85" y="406.30" font-size="29.5" fill="#000" >1.6</text>
<text x="113.55" y="494.00" font-size="29.5" fill="#000" >0.0</text>
<text x="166.6" y="44.3" font-size="12.9" textLength="39" lengthAdjust="spacingAndGlyphs" fill="#1c2733">LOD0</text>
<text transform="translate(83.40,309.80) rotate(-90)" x="0" y="0" font-size="29.25" fill="#000">LOD Score</text>
<line x1="156.40" y1="495.70" x2="1097.00" y2="495.70" stroke="#000" stroke-width="2.4" />
<path d="M1085,491.9 L1101,495.8 L1085.4,498.8" fill="none" stroke="#000" stroke-width="2.2" stroke-linecap="round" stroke-linejoin="round"/>
<path d="M1090,493.6 L1101,495.8 L1090,497.6 Z" fill="#000"/>
<rect x="967.10" y="373.80" width="2.90" height="66.20" fill="#000"/>
<text x="244.24" y="490.50" font-size="13.5" fill="#111">175</text>
<text x="319.07" y="490.50" font-size="13.5" fill="#111">123</text>
<text x="425.26" y="490.50" font-size="13.5" fill="#111">178</text>
<text x="505.17" y="490.50" font-size="13.5" fill="#111">134</text>
<text x="593.95" y="490.50" font-size="13.5" fill="#111">147</text>
<text x="672.74" y="490.50" font-size="13.5" fill="#111">131</text>
<text x="735.20" y="490.50" font-size="13.5" fill="#111">100</text>
<text x="802.20" y="490.50" font-size="13.5" fill="#111">110</text>
<text x="882.07" y="490.50" font-size="13.5" fill="#111">133</text>
<text x="920.21" y="490.50" font-size="13.5" fill="#111">60</text>
<text x="969.94" y="490.50" font-size="13.5" fill="#111">81</text>
<text x="1052.37" y="490.50" font-size="13.5" fill="#111" >134</text>
<text x="1077.43" y="490.50" font-size="13.5" fill="#111" >cM</text>
<text x="3.02" y="534.30" font-size="29.2" fill="#000" >Chromosome # 1</text>
<text x="297.13" y="534.30" font-size="29.2" fill="#000" >2</text>
<text x="391.59" y="534.30" font-size="29.2" fill="#000" >3</text>
<text x="484.63" y="534.30" font-size="29.2" fill="#000" >4</text>
<text x="569.43" y="534.30" font-size="29.2" fill="#000" >5</text>
<text x="650.52" y="534.30" font-size="29.2" fill="#000" >6</text>
<text x="720.70" y="534.30" font-size="29.2" fill="#000" >7</text>
<text x="791.03" y="534.30" font-size="29.2" fill="#000" >8</text>
<text x="865.23" y="534.30" font-size="29.2" fill="#000" >9</text>
<text x="911.78" y="534.30" font-size="29.2" fill="#000" >10</text>
<text x="961.48" y="534.30" font-size="29.2" fill="#000" >11</text>
<text x="1027.48" y="534.30" font-size="29.2" fill="#000" >12</text>
<text x="192.04" y="84.70" font-size="26.3" fill="#e0141c" >Damage</text>
<text x="192.04" y="115.30" font-size="26.3" fill="#000" >Larval mass</text>
<text x="628.81" y="77.50" font-size="26.1" fill="#000" >108.4 cM</text>
<text x="531.38" y="216.00" font-size="26.1" fill="#000" >91.6 cM</text>
<text x="762.46" y="228.30" font-size="26.1" fill="#000" >79.2 cM</text>
<line x1="613.00" y1="230.40" x2="666.00" y2="246.30" stroke="#333" stroke-width="1" />
<path d="M659.5,241.2 L666.5,246.3 L658,247.5" fill="none" stroke="#333" stroke-width="1"/>
<text x="1138.66" y="46.00" font-size="34" font-weight="bold" fill="#000" >b</text>
<text x="1154.68" y="24.00" font-size="26" fill="#000" >Ch-6</text>
<line x1="1191.00" y1="36.00" x2="1191.00" y2="523.70" stroke="#000" stroke-width="2.2" />
<line x1="1255.70" y1="34.40" x2="1255.70" y2="172.10" stroke="#555" stroke-width="1.5" />
<line x1="1255.70" y1="326.20" x2="1255.70" y2="526.00" stroke="#555" stroke-width="1.5" />
<line x1="1258.30" y1="122.50" x2="1417.40" y2="122.50" stroke="#aaa" stroke-width="1.2" />
<line x1="1281.00" y1="209.80" x2="1436.50" y2="209.80" stroke="#aaa" stroke-width="1.2" />
<line x1="1258.40" y1="350.30" x2="1370.00" y2="350.30" stroke="#aaa" stroke-width="1.2" />
<line x1="1280.50" y1="123.50" x2="1280.50" y2="253.50" stroke="#5e8f7c" stroke-width="1.3" stroke-dasharray="1.5,1.6"/>
<line x1="1279.90" y1="262.40" x2="1279.90" y2="348.40" stroke="#8fb9a6" stroke-width="2" />
<line x1="1316.20" y1="122.50" x2="1316.20" y2="209.80" stroke="#333" stroke-width="1.2" />
<line x1="1298.70" y1="456.00" x2="1298.70" y2="524.00" stroke="#555" stroke-width="1.4" />
<text transform="translate(1244.40,142.15) rotate(-90)" x="0" y="0" font-size="23.3" fill="#000">IL 6-1</text>
<text transform="translate(1280.70,74.01) rotate(-90)" x="0" y="0" font-size="23.3" font-style="italic" fill="#000">6A</text>
<text transform="translate(1311.80,207.95) rotate(-90)" x="0" y="0" font-size="23.3" fill="#000">IL 6-2-2</text>
<text transform="translate(1353.60,162.71) rotate(-90)" x="0" y="0" font-size="23.3" font-style="italic" fill="#000">6B</text>
<text transform="translate(1271.50,208.11) rotate(-90)" x="0" y="0" font-size="23.3" font-style="italic" fill="#000">6C</text>
<text transform="translate(1262.60,295.35) rotate(-90)" x="0" y="0" font-size="23.3" fill="#000">IL 6-2</text>
<text transform="translate(1324.40,283.71) rotate(-90)" x="0" y="0" font-size="23.3" font-style="italic" fill="#000">6D</text>
<text transform="translate(1314.00,432.61) rotate(-90)" x="0" y="0" font-size="23.3" font-style="italic" fill="#000">6E</text>
<text transform="translate(1244.70,484.85) rotate(-90)" x="0" y="0" font-size="23.3" fill="#000">IL 6-3</text>
<text transform="translate(1280.40,523.45) rotate(-90)" x="0" y="0" font-size="23.3" fill="#000">IL 6-4</text>
<text transform="translate(1338.70,504.61) rotate(-90)" x="0" y="0" font-size="23.3" font-style="italic" fill="#000">6F</text>
<text x="1320.88" y="111.20" font-size="23.3" fill="#000" >TG590</text>
<text x="1359.83" y="147.20" font-size="23.3" fill="#000" >22 cM</text>
<text x="1308.68" y="196.20" font-size="23.3" fill="#000" >TG177</text>
<text x="1373.67" y="224.00" font-size="23.3" fill="#000" >43 cM</text>
<text x="1266.88" y="340.00" font-size="23.3" fill="#000" >TG279</text>
<text x="1266.39" y="366.70" font-size="23.3" fill="#000" >80 cM</text>
<text x="45.87" y="612.50" font-size="34" font-weight="bold" fill="#000" >c</text>
<text x="185.3" y="614.2" font-size="26" fill="#000" xml:space="preserve" style="white-space:pre">Chr. 6 and  8 QTL effect on leaf damage</text>
<line x1="164.10" y1="624.70" x2="164.10" y2="981.60" stroke="#111" stroke-width="1.4" />
<line x1="155.30" y1="879.40" x2="164.10" y2="879.40" stroke="#111" stroke-width="1.4" />
<text x="98.96" y="888.70" font-size="28.6" fill="#000">0.0</text>
<line x1="155.30" y1="843.01" x2="164.10" y2="843.01" stroke="#111" stroke-width="1.4" />
<text x="99.04" y="852.31" font-size="28.6" fill="#000">0.5</text>
<line x1="155.30" y1="806.62" x2="164.10" y2="806.62" stroke="#111" stroke-width="1.4" />
<text x="98.96" y="815.92" font-size="28.6" fill="#000">1.0</text>
<line x1="155.30" y1="770.23" x2="164.10" y2="770.23" stroke="#111" stroke-width="1.4" />
<text x="99.04" y="779.53" font-size="28.6" fill="#000">1.5</text>
<line x1="155.30" y1="733.84" x2="164.10" y2="733.84" stroke="#111" stroke-width="1.4" />
<text x="98.96" y="743.14" font-size="28.6" fill="#000">2.0</text>
<line x1="155.30" y1="697.45" x2="164.10" y2="697.45" stroke="#111" stroke-width="1.4" />
<text x="99.04" y="706.75" font-size="28.6" fill="#000">2.5</text>
<line x1="155.30" y1="661.06" x2="164.10" y2="661.06" stroke="#111" stroke-width="1.4" />
<text x="98.96" y="670.36" font-size="28.6" fill="#000">3.0</text>
<line x1="155.30" y1="624.67" x2="164.10" y2="624.67" stroke="#111" stroke-width="1.4" />
<text x="99.04" y="633.97" font-size="28.6" fill="#000">3.5</text>
<text transform="translate(66.30,864.16) rotate(-90)" x="0" y="0" font-size="34.9" fill="#000">Damage level</text>
<rect x="206.00" y="755.00" width="55.40" height="124.40" fill="#a5a5a5"/>
<rect x="345.10" y="787.70" width="55.20" height="91.70" fill="#a5a5a5"/>
<rect x="484.10" y="775.40" width="55.20" height="104.00" fill="#a5a5a5"/>
<rect x="622.80" y="678.70" width="55.80" height="200.70" fill="#a5a5a5"/>
<line x1="155.50" y1="879.40" x2="720.00" y2="879.40" stroke="#111" stroke-width="1.4" />
<line x1="234.00" y1="716.30" x2="234.00" y2="793.00" stroke="#111" stroke-width="1.5" />
<line x1="230.00" y1="716.30" x2="238.00" y2="716.30" stroke="#111" stroke-width="1.5" />
<line x1="230.00" y1="793.00" x2="238.00" y2="793.00" stroke="#111" stroke-width="1.5" />
<line x1="372.70" y1="777.50" x2="372.70" y2="798.00" stroke="#111" stroke-width="1.5" />
<line x1="368.70" y1="777.50" x2="376.70" y2="777.50" stroke="#111" stroke-width="1.5" />
<line x1="368.70" y1="798.00" x2="376.70" y2="798.00" stroke="#111" stroke-width="1.5" />
<line x1="511.70" y1="755.50" x2="511.70" y2="796.00" stroke="#111" stroke-width="1.5" />
<line x1="507.70" y1="755.50" x2="515.70" y2="755.50" stroke="#111" stroke-width="1.5" />
<line x1="507.70" y1="796.00" x2="515.70" y2="796.00" stroke="#111" stroke-width="1.5" />
<line x1="650.70" y1="664.60" x2="650.70" y2="692.70" stroke="#111" stroke-width="1.5" />
<line x1="646.70" y1="664.60" x2="654.70" y2="664.60" stroke="#111" stroke-width="1.5" />
<line x1="646.70" y1="692.70" x2="654.70" y2="692.70" stroke="#111" stroke-width="1.5" />
<text x="220.74" y="705.90" font-size="26.7" fill="#000">ab</text>
<text x="365.38" y="765.20" font-size="26.7" fill="#000">b</text>
<text x="504.28" y="744.60" font-size="26.7" fill="#000">b</text>
<text x="642.01" y="650.00" font-size="26.7" fill="#000">a</text>
<line x1="303.20" y1="879.40" x2="303.20" y2="981.60" stroke="#111" stroke-width="1.4" />
<line x1="442.00" y1="879.40" x2="442.00" y2="981.60" stroke="#111" stroke-width="1.4" />
<line x1="581.30" y1="879.40" x2="581.30" y2="981.60" stroke="#111" stroke-width="1.4" />
<line x1="720.30" y1="879.40" x2="720.30" y2="981.60" stroke="#111" stroke-width="1.4" />
<text x="213.49" y="923.20" font-size="27.5" font-style="italic" fill="#000">S.g</text>
<text x="352.69" y="923.20" font-size="27.5" font-style="italic" fill="#000">S.g</text>
<text x="496.26" y="923.20" font-size="27.5" font-style="italic" fill="#000">S.l</text>
<text x="635.76" y="923.20" font-size="27.5" font-style="italic" fill="#000">S.l</text>
<text x="209.67" y="974.00" font-size="27.5" font-style="italic" fill="#000">S. g</text>
<text x="353.04" y="974.00" font-size="27.5" font-style="italic" fill="#000">S. l</text>
<text x="492.09" y="974.00" font-size="27.5" font-style="italic" fill="#000">S.g</text>
<text x="635.76" y="974.00" font-size="27.5" font-style="italic" fill="#000">S.l</text>
<text x="729.59" y="921.00" font-size="27.8" fill="#000" >Chr. 6</text>
<text x="729.59" y="970.90" font-size="27.8" fill="#000" >Chr. 8</text>
<text x="822.61" y="612.00" font-size="34" font-weight="bold" fill="#000" >d</text>
<text x="964.08" y="614.00" font-size="26" fill="#000" >Chr. 6 QTL genotype effect on larval mass</text>
<line x1="947.00" y1="627.50" x2="947.00" y2="941.00" stroke="#111" stroke-width="1.4" />
<line x1="939.00" y1="932.40" x2="947.00" y2="932.40" stroke="#111" stroke-width="1.4" />
<text x="883.66" y="942.00" font-size="28.6" fill="#000">0.0</text>
<line x1="939.00" y1="881.57" x2="947.00" y2="881.57" stroke="#111" stroke-width="1.4" />
<text x="883.74" y="891.17" font-size="28.6" fill="#000">0.5</text>
<line x1="939.00" y1="830.74" x2="947.00" y2="830.74" stroke="#111" stroke-width="1.4" />
<text x="883.66" y="840.34" font-size="28.6" fill="#000">1.0</text>
<line x1="939.00" y1="779.91" x2="947.00" y2="779.91" stroke="#111" stroke-width="1.4" />
<text x="883.74" y="789.51" font-size="28.6" fill="#000">1.5</text>
<line x1="939.00" y1="729.08" x2="947.00" y2="729.08" stroke="#111" stroke-width="1.4" />
<text x="883.66" y="738.68" font-size="28.6" fill="#000">2.0</text>
<line x1="939.00" y1="678.25" x2="947.00" y2="678.25" stroke="#111" stroke-width="1.4" />
<text x="883.74" y="687.85" font-size="28.6" fill="#000">2.5</text>
<line x1="939.00" y1="627.42" x2="947.00" y2="627.42" stroke="#111" stroke-width="1.4" />
<text x="883.66" y="637.02" font-size="28.6" fill="#000">3.0</text>
<text transform="translate(853.80,877.26) rotate(-90)" x="0" y="0" font-size="34.9" fill="#000">Larval mass</text>
<rect x="1028.30" y="833.30" width="107.70" height="99.10" fill="#a5a5a5"/>
<rect x="1298.30" y="710.00" width="107.40" height="222.40" fill="#a5a5a5"/>
<line x1="939.00" y1="932.40" x2="1487.00" y2="932.40" stroke="#111" stroke-width="1.4" />
<line x1="1217.30" y1="932.40" x2="1217.30" y2="941.00" stroke="#111" stroke-width="1.4" />
<line x1="1486.70" y1="932.40" x2="1486.70" y2="941.00" stroke="#111" stroke-width="1.4" />
<line x1="1082.30" y1="826.70" x2="1082.30" y2="839.30" stroke="#111" stroke-width="1.5" />
<line x1="1078.30" y1="826.70" x2="1086.30" y2="826.70" stroke="#111" stroke-width="1.5" />
<line x1="1078.30" y1="839.30" x2="1086.30" y2="839.30" stroke="#111" stroke-width="1.5" />
<line x1="1351.70" y1="685.00" x2="1351.70" y2="734.30" stroke="#111" stroke-width="1.5" />
<line x1="1347.70" y1="685.00" x2="1355.70" y2="685.00" stroke="#111" stroke-width="1.5" />
<line x1="1347.70" y1="734.30" x2="1355.70" y2="734.30" stroke="#111" stroke-width="1.5" />
<text x="1072.28" y="814.00" font-size="26.7" fill="#000">b</text>
<text x="1339.41" y="674.00" font-size="26.7" fill="#000">a</text>
<text x="1059.22" y="975.00" font-size="27.5" font-style="italic" fill="#000" >S. g</text>
<text x="1333.22" y="975.00" font-size="27.5" font-style="italic" fill="#000" >S. l</text>
<text x="48.67" y="1051.50" font-size="34" font-weight="bold" fill="#000" >e</text>
<line x1="93.40" y1="1047.20" x2="1493.50" y2="1047.20" stroke="#a2a2a2" stroke-width="1.3" />
<line x1="93.40" y1="1155.50" x2="1493.50" y2="1155.50" stroke="#a2a2a2" stroke-width="1.5" />
<line x1="93.40" y1="1199.10" x2="1493.50" y2="1199.10" stroke="#a2a2a2" stroke-width="1.5" />
<line x1="93.40" y1="1242.60" x2="1493.50" y2="1242.60" stroke="#a2a2a2" stroke-width="1.5" />
<line x1="93.40" y1="1286.30" x2="1493.50" y2="1286.30" stroke="#a2a2a2" stroke-width="1.5" />
<line x1="93.40" y1="1330.00" x2="1493.50" y2="1330.00" stroke="#a2a2a2" stroke-width="1.5" />
<line x1="93.40" y1="1373.70" x2="1493.50" y2="1373.70" stroke="#a2a2a2" stroke-width="1.5" />
<line x1="93.40" y1="1417.40" x2="1493.50" y2="1417.40" stroke="#a2a2a2" stroke-width="1.5" />
<line x1="93.40" y1="1461.10" x2="1493.50" y2="1461.10" stroke="#a2a2a2" stroke-width="1.5" />
<line x1="93.40" y1="1047.20" x2="93.40" y2="1461.10" stroke="#aaaaaa" stroke-width="1.7" />
<line x1="193.90" y1="1047.20" x2="193.90" y2="1461.10" stroke="#aaaaaa" stroke-width="1.7" />
<line x1="333.80" y1="1155.50" x2="333.80" y2="1461.10" stroke="#aaaaaa" stroke-width="1.7" />
<line x1="483.60" y1="1047.20" x2="483.60" y2="1461.10" stroke="#aaaaaa" stroke-width="1.7" />
<line x1="615.80" y1="1155.50" x2="615.80" y2="1461.10" stroke="#aaaaaa" stroke-width="1.7" />
<line x1="747.00" y1="1047.20" x2="747.00" y2="1461.10" stroke="#aaaaaa" stroke-width="1.7" />
<line x1="877.80" y1="1155.50" x2="877.80" y2="1461.10" stroke="#aaaaaa" stroke-width="1.7" />
<line x1="1005.00" y1="1047.20" x2="1005.00" y2="1461.10" stroke="#aaaaaa" stroke-width="1.7" />
<line x1="1173.10" y1="1155.50" x2="1173.10" y2="1461.10" stroke="#aaaaaa" stroke-width="1.7" />
<line x1="1327.60" y1="1047.20" x2="1327.60" y2="1461.10" stroke="#aaaaaa" stroke-width="1.7" />
<line x1="1493.50" y1="1047.20" x2="1493.50" y2="1461.10" stroke="#aaaaaa" stroke-width="1.7" />
<text x="262.67" y="1110.40" font-size="26.2" font-weight="bold" fill="#000">Larval mass</text>
<text x="264.23" y="1146.30" font-size="26.2" font-weight="bold" fill="#000">(mg +/- SE)*</text>
<text x="566.53" y="1110.40" font-size="26.2" font-weight="bold" fill="#000">Percent</text>
<text x="564.88" y="1146.30" font-size="26.2" font-weight="bold" fill="#000">Survival</text>
<text x="824.60" y="1110.40" font-size="26.2" font-weight="bold" fill="#000">Damage</text>
<text x="839.66" y="1146.30" font-size="26.2" font-weight="bold" fill="#000">Score</text>
<text x="1021.02" y="1146.30" font-size="26.2" font-weight="bold" fill="#000">Damage QTL Genotype</text>
<text x="1372.00" y="1075.00" font-size="26.2" font-weight="bold" fill="#000">Larval</text>
<text x="1346.75" y="1110.40" font-size="26.2" font-weight="bold" fill="#000">mass QTL</text>
<text x="1350.05" y="1146.30" font-size="26.2" font-weight="bold" fill="#000">Genotype</text>
<text x="122.07" y="1186.00" font-size="26.2" font-weight="bold" fill="#000">RIL</text>
<text x="224.75" y="1186.00" font-size="26.2" font-weight="bold" fill="#000">Exp. 1</text>
<text x="369.76" y="1186.00" font-size="26.2" font-weight="bold" fill="#000">Exp. 2</text>
<text x="510.60" y="1186.00" font-size="26.2" font-weight="bold" fill="#000">Exp. 1</text>
<text x="642.46" y="1186.00" font-size="26.2" font-weight="bold" fill="#000">Exp. 2</text>
<text x="773.30" y="1186.00" font-size="26.2" font-weight="bold" fill="#000">Exp. 1</text>
<text x="902.46" y="1186.00" font-size="26.2" font-weight="bold" fill="#000">Exp. 2</text>
<text x="1056.96" y="1186.00" font-size="26.2" font-weight="bold" fill="#000">Ch. 6</text>
<text x="1218.19" y="1186.00" font-size="26.2" font-weight="bold" fill="#000">Ch. 8</text>
<text x="1378.46" y="1186.00" font-size="26.2" font-weight="bold" fill="#000">Ch. 6</text>
<text x="122.52" y="1229.90" font-size="26.2" font-weight="bold" fill="#000">1 G</text>
<text x="245.89" y="1229.90" font-size="25.9" fill="#000">0.5</text>
<text x="351.32" y="1229.90" font-size="25.9" fill="#000">0.67 ± 0.1</text>
<text x="534.69" y="1229.90" font-size="25.9" fill="#000">14</text>
<text x="667.27" y="1229.90" font-size="25.9" fill="#000">43</text>
<text x="804.84" y="1229.90" font-size="25.9" fill="#000">1</text>
<text x="934.20" y="1229.90" font-size="25.9" fill="#000">0</text>
<text x="1066.90" y="1229.90" font-size="26.3" font-style="italic" fill="#000">S.g.</text>
<text x="1205.54" y="1229.90" font-size="26.3" font-style="italic" fill="#000">S.g./S.l.</text>
<text x="1388.40" y="1229.90" font-size="26.3" font-style="italic" fill="#000">S.g.</text>
<text x="122.89" y="1273.40" font-size="26.2" font-weight="bold" fill="#000">2 G</text>
<text x="245.89" y="1273.40" font-size="25.9" fill="#000">0.5</text>
<text x="358.52" y="1273.40" font-size="25.9" fill="#000">0.5 ± 0.1</text>
<text x="534.69" y="1273.40" font-size="25.9" fill="#000">14</text>
<text x="667.13" y="1273.40" font-size="25.9" fill="#000">57</text>
<text x="805.20" y="1273.40" font-size="25.9" fill="#000">0</text>
<text x="934.20" y="1273.40" font-size="25.9" fill="#000">0</text>
<text x="1066.90" y="1273.40" font-size="26.3" font-style="italic" fill="#000">S.g.</text>
<text x="1232.59" y="1273.40" font-size="26.3" font-style="italic" fill="#000">S.l.</text>
<text x="1388.40" y="1273.40" font-size="26.3" font-style="italic" fill="#000">S.g.</text>
<text x="123.15" y="1317.10" font-size="26.2" font-weight="bold" fill="#000">4 G</text>
<text x="213.45" y="1317.10" font-size="25.9" fill="#000">7.8 ± 1.6</text>
<text x="358.39" y="1317.10" font-size="25.9" fill="#000">6.3 ± 0.7</text>
<text x="535.30" y="1317.10" font-size="25.9" fill="#000">86</text>
<text x="667.00" y="1317.10" font-size="25.9" fill="#000">86</text>
<text x="805.22" y="1317.10" font-size="25.9" fill="#000">5</text>
<text x="934.22" y="1317.10" font-size="25.9" fill="#000">5</text>
<text x="1071.29" y="1317.10" font-size="26.3" font-style="italic" fill="#000">S.l.</text>
<text x="1232.59" y="1317.10" font-size="26.3" font-style="italic" fill="#000">S.l.</text>
<text x="1392.79" y="1317.10" font-size="26.3" font-style="italic" fill="#000">S.l.</text>
<text x="115.86" y="1360.80" font-size="26.2" font-weight="bold" fill="#000">47 G</text>
<text x="213.59" y="1360.80" font-size="25.9" fill="#000">5.3 ± 1.6</text>
<text x="358.06" y="1360.80" font-size="25.9" fill="#000">1.8 ± 0.2</text>
<text x="535.43" y="1360.80" font-size="25.9" fill="#000">57</text>
<text x="667.13" y="1360.80" font-size="25.9" fill="#000">57</text>
<text x="805.22" y="1360.80" font-size="25.9" fill="#000">5</text>
<text x="934.28" y="1360.80" font-size="25.9" fill="#000">4</text>
<text x="1071.29" y="1360.80" font-size="26.3" font-style="italic" fill="#000">S.l.</text>
<text x="1232.59" y="1360.80" font-size="26.3" font-style="italic" fill="#000">S.l.</text>
<text x="1392.79" y="1360.80" font-size="26.3" font-style="italic" fill="#000">S.l.</text>
<text x="115.66" y="1404.50" font-size="26.2" font-weight="bold" fill="#000">53 G</text>
<text x="213.55" y="1404.50" font-size="25.9" fill="#000">3.7 ± 1.0</text>
<text x="358.31" y="1404.50" font-size="25.9" fill="#000">2.5 ± 0.6</text>
<text x="527.61" y="1404.50" font-size="25.9" fill="#000">100</text>
<text x="667.00" y="1404.50" font-size="25.9" fill="#000">86</text>
<text x="805.28" y="1404.50" font-size="25.9" fill="#000">4</text>
<text x="934.27" y="1404.50" font-size="25.9" fill="#000">3</text>
<text x="1071.29" y="1404.50" font-size="26.3" font-style="italic" fill="#000">S.l.</text>
<text x="1205.54" y="1404.50" font-size="26.3" font-style="italic" fill="#000">S.g./S.l.</text>
<text x="1392.79" y="1404.50" font-size="26.3" font-style="italic" fill="#000">S.l.</text>
<text x="115.58" y="1448.20" font-size="26.2" font-weight="bold" fill="#000">64 G</text>
<text x="213.21" y="1448.20" font-size="25.9" fill="#000">1.2 ± 0.2</text>
<text x="357.97" y="1448.20" font-size="25.9" fill="#000">1.9 ± 0.3</text>
<text x="527.61" y="1448.20" font-size="25.9" fill="#000">100</text>
<text x="666.96" y="1448.20" font-size="25.9" fill="#000">71</text>
<text x="805.28" y="1448.20" font-size="25.9" fill="#000">4</text>
<text x="934.27" y="1448.20" font-size="25.9" fill="#000">3</text>
<text x="1071.29" y="1448.20" font-size="26.3" font-style="italic" fill="#000">S.l.</text>
<text x="1232.59" y="1448.20" font-size="26.3" font-style="italic" fill="#000">S.l.</text>
<text x="1392.79" y="1448.20" font-size="26.3" font-style="italic" fill="#000">S.l.</text>
<text x="109.18" y="1491.90" font-size="26" fill="#000" >*no standard error was calculated if only one larva survived.</text>
</svg>
</body></html>
